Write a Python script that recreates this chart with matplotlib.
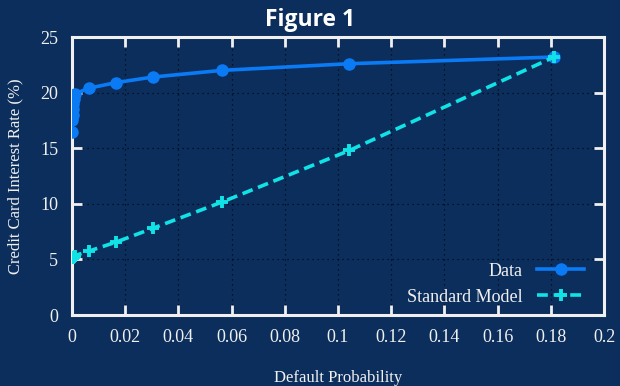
import matplotlib
matplotlib.use("Agg")
import matplotlib.pyplot as plt

# default probability (shared x) and rates in %
default_prob = [0, 0.0001, 0.0002, 0.0003, 0.0005, 0.0008, 0.0012,
                0.0064, 0.0165, 0.0304, 0.0563, 0.1043, 0.1812]
data_rate = [16.5, 17.5, 18.0, 18.5, 19.0, 19.4, 19.9,
             20.4, 20.9, 21.4, 22.0, 22.6, 23.2]
model_rate = [5.1, 5.12, 5.14, 5.16, 5.2, 5.25, 5.35,
              5.75, 6.55, 7.8, 10.15, 14.8, 23.2]
x_ticks = [0, 0.02, 0.04, 0.06, 0.08, 0.1, 0.12, 0.14, 0.16, 0.18, 0.2]
x_ticklabels = ["0", "0.02", "0.04", "0.06", "0.08", "0.1", "0.12", "0.14", "0.16", "0.18", "0.2"]
y_ticks = [0, 5, 10, 15, 20, 25]

bg = "#0c2e5c"
fg = "#f0f0f0"

fig = plt.figure(figsize=(6.2, 3.86), dpi=100, facecolor=bg)
ax = fig.add_axes([0.1161, 0.1839, 0.8581, 0.7202], facecolor=bg)

ax.plot(default_prob, data_rate, color="#0a7af5", lw=2.6, marker="o",
        ms=8, label="Data", zorder=3)
ax.plot(default_prob, model_rate, color="#10e2e6", lw=2.6, ls=(0, (3, 1.6)),
        marker="+", ms=8, mew=2.8, label="Standard Model", zorder=4)

ax.set_xlim(0, 0.2)
ax.set_ylim(0, 25)
ax.set_xticks(x_ticks)
ax.set_xticklabels(x_ticklabels)
ax.set_yticks(y_ticks)

serif = "Liberation Serif"
ax.tick_params(direction="in", length=7, width=2, colors=fg,
               top=True, right=True, labelsize=13, pad=10)
for lab in ax.get_xticklabels() + ax.get_yticklabels():
    lab.set_family(serif)
    lab.set_color(fg)
for s in ax.spines.values():
    s.set_color(fg)
    s.set_linewidth(2.2)

ax.grid(True, color="#000000", lw=0.9, ls=(0, (1, 3)), alpha=0.8)
ax.set_axisbelow(True)

ax.set_xlabel("Default Probability", family=serif, fontsize=12, color=fg, labelpad=17)
ax.set_ylabel("Credit Card Interest Rate (%)", family=serif, fontsize=12, color=fg, labelpad=12)

leg = ax.legend(loc="lower right", bbox_to_anchor=(0.976, 0.008), frameon=False,
                markerfirst=False, prop={"family": serif, "size": 13}, labelcolor=fg,
                handlelength=2.6, borderaxespad=0, labelspacing=0.5)

fig.suptitle("Figure 1", fontsize=16.5, fontweight="bold", color="white",
             family="Open Sans", y=0.978)

fig.savefig("out.png", dpi=100, facecolor=bg)
